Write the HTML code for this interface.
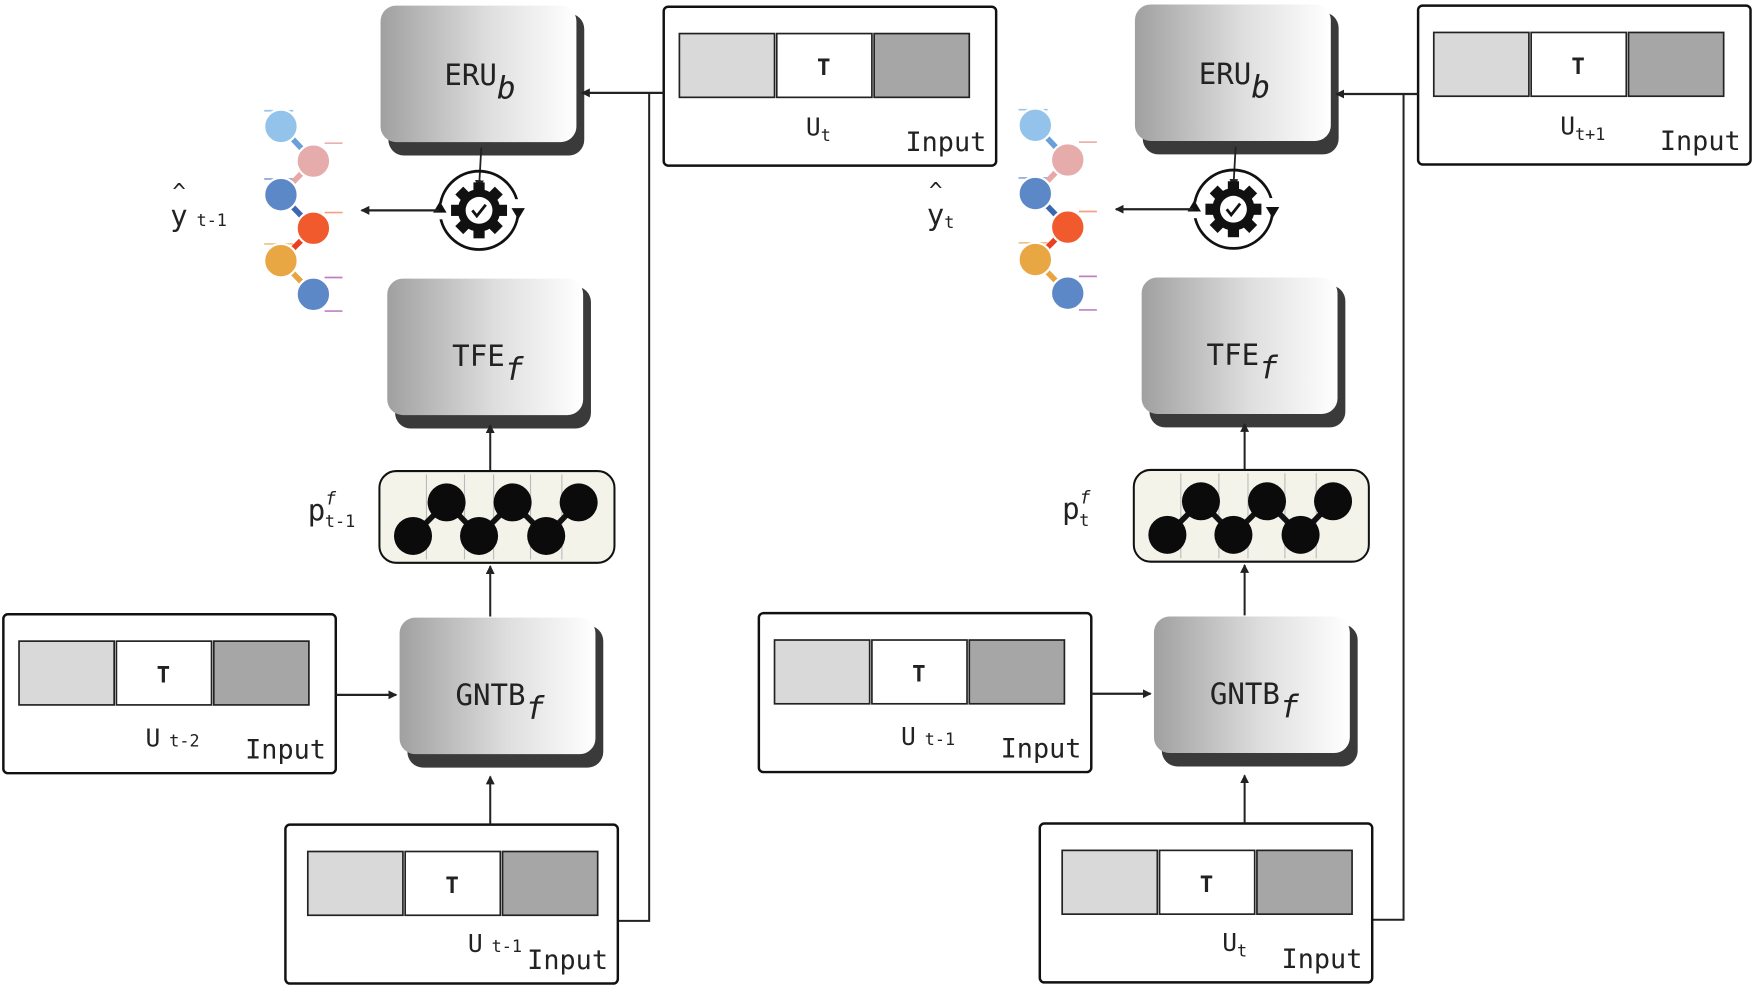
<!DOCTYPE html>
<html><head><meta charset="utf-8"><style>
html,body{margin:0;padding:0;background:#fff;}
svg{display:block;}
text{font-family:"DejaVu Sans Mono","Liberation Mono",monospace;fill:#222;}
</style></head><body>
<svg width="1755" height="988" viewBox="0 0 1568 883" preserveAspectRatio="none" xmlns="http://www.w3.org/2000/svg">
<defs>
<linearGradient id="g" x1="0" x2="1" y1="0" y2="0">
<stop offset="0" stop-color="#a0a0a0"/><stop offset="0.55" stop-color="#dedede"/><stop offset="1" stop-color="#ffffff"/>
</linearGradient>
<marker id="a" markerWidth="8" markerHeight="8" refX="7" refY="4" orient="auto" markerUnits="userSpaceOnUse">
<path d="M0,0 L8,4 L0,8 z" fill="#222"/></marker>
<g id="cells">
<rect x="0" y="0" width="85" height="57" fill="#d9d9d9" stroke="#222" stroke-width="1.5"/>
<rect x="87" y="0" width="85" height="57" fill="#fff" stroke="#222" stroke-width="1.5"/>
<rect x="174" y="0" width="85" height="57" fill="#a6a6a6" stroke="#222" stroke-width="1.5"/>
<text x="129" y="37" font-size="20" font-weight="bold" text-anchor="middle" font-family="Liberation Sans">T</text>
</g>
<g id="frame">
<rect x="0" y="0" width="297" height="142" rx="4" fill="#fff" stroke="#111" stroke-width="2.2"/>
<text x="216" y="129" font-size="24">Input</text>
</g>
<g id="inbox"><use href="#frame"/><use href="#cells" x="14" y="24"/></g>
<g id="inbox2"><use href="#frame"/><use href="#cells" x="20" y="24"/></g>
<g id="blk">
<rect x="7" y="7" width="175" height="127" rx="14" fill="#3a3a3a"/>
<rect x="0" y="0" width="175" height="122" rx="14" fill="url(#g)"/>
</g>
<g id="gear">
<circle cx="0" cy="0" r="35" fill="none" stroke="#111" stroke-width="2.5"/>
<rect x="-38" y="-6" width="6" height="14" fill="#fff"/><rect x="32" y="-10" width="6" height="14" fill="#fff"/>
<path d="M-35,-8 l-6,10 h12 z" fill="#111"/><path d="M35,8 l-6,-10 h12 z" fill="#111"/>
<g fill="#111">
<rect x="-5" y="-25" width="10" height="50"/><rect x="-25" y="-5" width="50" height="10"/>
<rect x="-5" y="-25" width="10" height="50" transform="rotate(45)"/><rect x="-5" y="-25" width="10" height="50" transform="rotate(-45)"/>
<circle r="19"/></g>
<circle r="12" fill="#fff"/>
<path d="M-6,0 l4,5 l8,-10" fill="none" stroke="#111" stroke-width="2.5"/>
</g>
<g id="dots">
<rect x="0" y="0" width="210" height="82" rx="15" fill="#f3f3ea" stroke="#111" stroke-width="1.8"/>
<g stroke="#bbb" stroke-width="1"><line x1="42" y1="3" x2="42" y2="79"/><line x1="76" y1="3" x2="76" y2="79"/><line x1="102" y1="3" x2="102" y2="79"/><line x1="135" y1="3" x2="135" y2="79"/><line x1="163" y1="3" x2="163" y2="79"/></g>
<polyline points="30,58 60,28 89,58 119,28 149,58 178,28" fill="none" stroke="#111" stroke-width="5"/>
<g fill="#0b0b0b"><circle cx="30" cy="58" r="17"/><circle cx="60" cy="28" r="17"/><circle cx="89" cy="58" r="17"/><circle cx="119" cy="28" r="17"/><circle cx="149" cy="58" r="17"/><circle cx="178" cy="28" r="17"/></g>
</g>
<g id="circ">
<g stroke-width="1.5">
<line x1="236" y1="99" x2="262" y2="99" stroke="#9cc5ea"/><line x1="290" y1="128" x2="306" y2="128" stroke="#e8b0b0"/>
<line x1="236" y1="160" x2="262" y2="160" stroke="#8aa8d8"/><line x1="290" y1="190" x2="306" y2="190" stroke="#f3a080"/>
<line x1="236" y1="218" x2="262" y2="218" stroke="#f0c080"/><line x1="290" y1="248" x2="306" y2="248" stroke="#c080c0"/>
<line x1="290" y1="278" x2="306" y2="278" stroke="#c080c0"/>
</g>
<g stroke-width="5"><line x1="251" y1="113" x2="280" y2="144" stroke="#6aa0d8"/><line x1="280" y1="144" x2="251" y2="174" stroke="#e8a8a8"/><line x1="251" y1="174" x2="280" y2="204" stroke="#3b68b0"/><line x1="280" y1="204" x2="251" y2="233" stroke="#e84020"/><line x1="251" y1="233" x2="280" y2="263" stroke="#e8a440"/></g>
<g stroke="#fff" stroke-width="2">
<circle cx="251" cy="113" r="15" fill="#93c2ea"/><circle cx="280" cy="144" r="15" fill="#e6abab"/>
<circle cx="251" cy="174" r="15" fill="#5d88c8"/><circle cx="280" cy="204" r="15" fill="#f05a2c"/>
<circle cx="251" cy="233" r="15" fill="#e9a743"/><circle cx="280" cy="263" r="15" fill="#5d88c8"/></g>
</g>
</defs>

<!-- LEFT -->
<g>
<use href="#blk" x="340" y="5"/>
<text x="397" y="76" font-size="26">ERU<tspan font-size="28" font-style="italic" dy="12">b</tspan></text>
<use href="#inbox" x="593" y="6"/>
<text x="720" y="121" font-size="22">U<tspan font-size="15" dy="5">t</tspan></text>
<line x1="593" y1="83" x2="520" y2="83" stroke="#222" stroke-width="2" marker-end="url(#a)"/>
<polyline points="580,83 580,823 552,823" fill="none" stroke="#222" stroke-width="1.8"/>
<line x1="430" y1="132" x2="428" y2="168" stroke="#222" stroke-width="1.6" marker-end="url(#a)"/>
<use href="#gear" x="428" y="188"/>
<line x1="392" y1="188" x2="323" y2="188" stroke="#222" stroke-width="2" marker-end="url(#a)"/>
<text x="154" y="178" font-size="20">^</text>
<text x="152" y="202" font-size="26">y<tspan font-size="15" dx="8">t-1</tspan></text>
<use href="#circ"/>
<use href="#blk" x="346" y="249"/>
<text x="404" y="327" font-size="26">TFE<tspan font-size="28" font-style="italic" dy="12">f</tspan></text>
<line x1="438" y1="421" x2="438" y2="380" stroke="#222" stroke-width="1.8" marker-end="url(#a)"/>
<use href="#dots" x="339" y="421"/>
<text x="275" y="465" font-size="26">p<tspan font-size="16" font-style="italic" dy="-14">f</tspan><tspan font-size="15" dx="-10" dy="20">t-1</tspan></text>
<line x1="438" y1="551" x2="438" y2="506" stroke="#222" stroke-width="1.8" marker-end="url(#a)"/>
<use href="#blk" x="357" y="552"/>
<text x="407" y="630" font-size="26">GNTB<tspan font-size="28" font-style="italic" dy="12">f</tspan></text>
<use href="#inbox" x="3" y="549"/>
<text x="130" y="667" font-size="22">U<tspan font-size="15" dx="8">t-2</tspan></text>
<line x1="300" y1="621" x2="354" y2="621" stroke="#222" stroke-width="2" marker-end="url(#a)"/>
<use href="#inbox2" x="255" y="737"/>
<text x="418" y="851" font-size="22">U<tspan font-size="15" dx="8">t-1</tspan></text>
<line x1="438" y1="737" x2="438" y2="694" stroke="#222" stroke-width="1.8" marker-end="url(#a)"/>
</g>

<!-- RIGHT -->
<g>
<use href="#blk" x="1014" y="4"/>
<text x="1071" y="75" font-size="26">ERU<tspan font-size="28" font-style="italic" dy="12">b</tspan></text>
<use href="#inbox" x="1267" y="5"/>
<text x="1394" y="120" font-size="22">U<tspan font-size="15" dy="5">t+1</tspan></text>
<line x1="1267" y1="84" x2="1194" y2="84" stroke="#222" stroke-width="2" marker-end="url(#a)"/>
<polyline points="1254,84 1254,822 1226,822" fill="none" stroke="#222" stroke-width="1.8"/>
<line x1="1104" y1="131" x2="1102" y2="167" stroke="#222" stroke-width="1.6" marker-end="url(#a)"/>
<use href="#gear" x="1102" y="187"/>
<line x1="1066" y1="187" x2="997" y2="187" stroke="#222" stroke-width="2" marker-end="url(#a)"/>
<text x="830" y="177" font-size="20">^</text>
<text x="828" y="201" font-size="26">y<tspan font-size="15" dy="3">t</tspan></text>
<use href="#circ" x="674" y="-1"/>
<use href="#blk" x="1020" y="248"/>
<text x="1078" y="326" font-size="26">TFE<tspan font-size="28" font-style="italic" dy="12">f</tspan></text>
<line x1="1112" y1="420" x2="1112" y2="379" stroke="#222" stroke-width="1.8" marker-end="url(#a)"/>
<use href="#dots" x="1013" y="420"/>
<text x="949" y="464" font-size="26">p<tspan font-size="16" font-style="italic" dy="-14">f</tspan><tspan font-size="15" dx="-10" dy="20">t</tspan></text>
<line x1="1112" y1="550" x2="1112" y2="505" stroke="#222" stroke-width="1.8" marker-end="url(#a)"/>
<use href="#blk" x="1031" y="551"/>
<text x="1081" y="629" font-size="26">GNTB<tspan font-size="28" font-style="italic" dy="12">f</tspan></text>
<use href="#inbox" x="678" y="548"/>
<text x="805" y="666" font-size="22">U<tspan font-size="15" dx="8">t-1</tspan></text>
<line x1="975" y1="620" x2="1028" y2="620" stroke="#222" stroke-width="2" marker-end="url(#a)"/>
<use href="#inbox2" x="929" y="736"/>
<text x="1092" y="850" font-size="22">U<tspan font-size="15" dy="5">t</tspan></text>
<line x1="1112" y1="736" x2="1112" y2="693" stroke="#222" stroke-width="1.8" marker-end="url(#a)"/>
</g>
</svg>
</body></html>
